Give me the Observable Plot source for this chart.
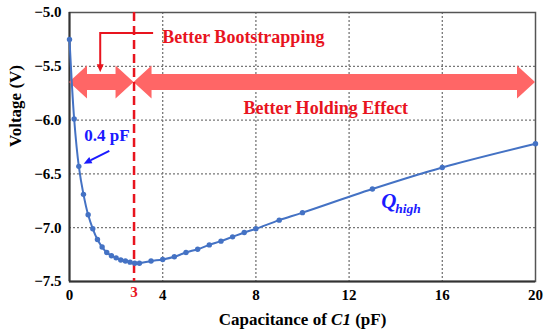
<!DOCTYPE html>
<html>
<head>
<meta charset="utf-8">
<script src="https://cdn.jsdelivr.net/npm/d3@7"></script>
<script src="https://cdn.jsdelivr.net/npm/@observablehq/plot@0.6"></script>
<style>
  html, body { margin: 0; padding: 0; background: #fff; }
</style>
</head>
<body>
<div id="chart"></div>
<script>
// ---- data ----
const capacitance = [0, 0.2, 0.4, 0.6, 0.8, 1.0, 1.2, 1.4, 1.6, 1.8, 2.0, 2.2, 2.4, 2.6, 2.8, 3.0,
  3.5, 4, 4.5, 5, 5.5, 6, 6.5, 7, 7.5, 8, 9, 10, 13, 16, 20];
const voltage = [-5.25, -5.99, -6.43, -6.69, -6.88, -7.01, -7.11, -7.18, -7.23, -7.26, -7.28, -7.30, -7.31, -7.32, -7.33, -7.33,
  -7.31, -7.295, -7.27, -7.23, -7.20, -7.16, -7.125, -7.085, -7.045, -7.01, -6.93, -6.86, -6.64, -6.44, -6.22];
const xTicks = [0, 4, 8, 12, 16, 20];
const yTicks = [-5.0, -5.5, -6.0, -6.5, -7.0, -7.5];
const xGrid = [4, 8, 12, 16];
const yGrid = [-5.5, -6.0, -6.5, -7.0];
const optimumC = 2.77;          // red dashed marker (labelled "3")
const optimumLabel = ["3"];
const arrowSpans = [[0, 2.77], [2.77, 20]];
const arrowLevel = -5.65;
const bootBracket = {xText: 3.61, xTip: 1.34, yTop: -5.195, yTip: -5.56};
const blueArrow = {x1: 1.73, y1: -6.29, x2: 0.63, y2: -6.41};
const bootLabel = [{text: "Better Bootstrapping", x: 3.98, y: -5.279}];
const holdLabel = [{text: "Better Holding Effect", x: 11.0, y: -5.939}];
const pfLabel = [{text: "0.4 pF", x: 0.63, y: -6.19}];
const qLabel = [{text: "Q", x: 13.38, y: -6.82}];
const qSub = [{text: "high", x: 13.98, y: -6.859}];

const data = capacitance.map((c, i) => ({c, v: voltage[i]}));
const red = "#e8141e";
const blue = "#4472c4";
const dblue = "#1a1aff";
const serif = "Liberation Serif";

function fatArrows(index, scales) {
  const g = d3.create("svg:g");
  const L = 18, H = 16.5, h = 8;
  for (const [a, b] of arrowSpans) {
    const x0 = scales.x(a), x1 = scales.x(b), y = scales.y(arrowLevel);
    const pts = [[x0, y], [x0 + L, y - H], [x0 + L, y - h], [x1 - L, y - h], [x1 - L, y - H], [x1, y],
      [x1 - L, y + H], [x1 - L, y + h], [x0 + L, y + h], [x0 + L, y + H]];
    g.append("polygon").attr("points", pts.map(p => p.join(",")).join(" ")).attr("fill", "#ff6666");
  }
  return g.node();
}

function head(g, x1, y1, x2, y2, color, len, wid) {
  const ang = Math.atan2(y2 - y1, x2 - x1);
  const bx = x2 - len * Math.cos(ang), by = y2 - len * Math.sin(ang);
  const px = -Math.sin(ang) * wid / 2, py = Math.cos(ang) * wid / 2;
  g.append("polygon").attr("points", `${x2},${y2} ${bx + px},${by + py} ${bx - px},${by - py}`).attr("fill", color);
  return [bx, by];
}

function smallArrows(index, scales) {
  const g = d3.create("svg:g");
  const xa = scales.x(bootBracket.xText), xb = scales.x(bootBracket.xTip);
  const ya = scales.y(bootBracket.yTop), yb = scales.y(bootBracket.yTip);
  const [, byr] = head(g, xb, ya, xb, yb, red, 8, 7);
  g.append("path").attr("d", `M${xa},${ya}H${xb}V${byr + 1}`).attr("fill", "none")
    .attr("stroke", red).attr("stroke-width", 2);
  const x1 = scales.x(blueArrow.x1), y1 = scales.y(blueArrow.y1);
  const x2 = scales.x(blueArrow.x2), y2 = scales.y(blueArrow.y2);
  const [bx, by] = head(g, x1, y1, x2, y2, dblue, 8, 7);
  g.append("line").attr("x1", x1).attr("y1", y1).attr("x2", bx).attr("y2", by)
    .attr("stroke", dblue).attr("stroke-width", 2);
  return g.node();
}

const txt = {fontFamily: serif, fontWeight: "bold"};

const plot = Plot.plot({
  width: 550,
  height: 336,
  marginLeft: 69,
  marginRight: 15,
  marginTop: 12,
  marginBottom: 55,
  style: "font-family: Liberation Serif; font-size: 15px; font-weight: bold; background: #fff",
  x: {domain: [0, 20]},
  y: {domain: [-7.5, -5.0]},
  marks: [
    Plot.ruleX(xGrid, {stroke: "#777", strokeWidth: 1.3, strokeDasharray: "2,2"}),
    Plot.ruleY(yGrid, {stroke: "#777", strokeWidth: 1.3, strokeDasharray: "2,2"}),
    Plot.frame({stroke: "#555", strokeWidth: 1.5}),
    Plot.axisX({ticks: xTicks, tickSize: 0, tickPadding: 8, label: null, tickFormat: d => d, fontSize: 15, ...txt}),
    Plot.axisY({ticks: yTicks, tickSize: 0, tickPadding: 8, label: null, tickFormat: d3.format(".1f"), fontSize: 15, ...txt}),
    Plot.ruleX([0], {stroke: "#333", strokeWidth: 2}),
    Plot.ruleY([-7.5], {stroke: "#333", strokeWidth: 2}),
    fatArrows,
    Plot.ruleX([optimumC], {stroke: red, strokeWidth: 2.5, strokeDasharray: "9,5"}),
    Plot.text(optimumLabel, {x: optimumC, frameAnchor: "bottom", dy: 15, fill: red, fontSize: 15, ...txt}),
    Plot.line(data, {x: "c", y: "v", stroke: blue, strokeWidth: 2, curve: "catmull-rom"}),
    Plot.dot(data, {x: "c", y: "v", r: 2.7, fill: blue}),
    smallArrows,
    Plot.text(bootLabel, {x: "x", y: "y", text: "text", textAnchor: "start", lineAnchor: "bottom", fill: red, fontSize: 18, ...txt}),
    Plot.text(holdLabel, {x: "x", y: "y", text: "text", textAnchor: "middle", lineAnchor: "bottom", fill: red, fontSize: 18, ...txt}),
    Plot.text(pfLabel, {x: "x", y: "y", text: "text", textAnchor: "start", lineAnchor: "bottom", fill: dblue, fontSize: 17, ...txt}),
    Plot.text(qLabel, {x: "x", y: "y", text: "text", textAnchor: "start", lineAnchor: "bottom", fill: dblue, fontSize: 21, fontStyle: "italic", ...txt}),
    Plot.text(qSub, {x: "x", y: "y", text: "text", textAnchor: "start", lineAnchor: "bottom", fill: dblue, fontSize: 13.5, fontStyle: "italic", ...txt}),
    Plot.text(["Voltage (V)"], {frameAnchor: "left", rotate: -90, dx: -54, fontSize: 17, ...txt}),
    Plot.text(["Capacitance of C1 (pF)"], {frameAnchor: "bottom", dy: 43, lineAnchor: "bottom", fontSize: 17, className: "xlab", ...txt})
  ]
});

// italicise "C1" in the x label
d3.select(plot).selectAll(".xlab text").each(function () {
  const t = d3.select(this);
  t.text(null);
  t.append("tspan").text("Capacitance of ");
  t.append("tspan").attr("font-style", "italic").text("C1");
  t.append("tspan").text(" (pF)");
});

document.getElementById("chart").append(plot);
</script>
</body>
</html>
